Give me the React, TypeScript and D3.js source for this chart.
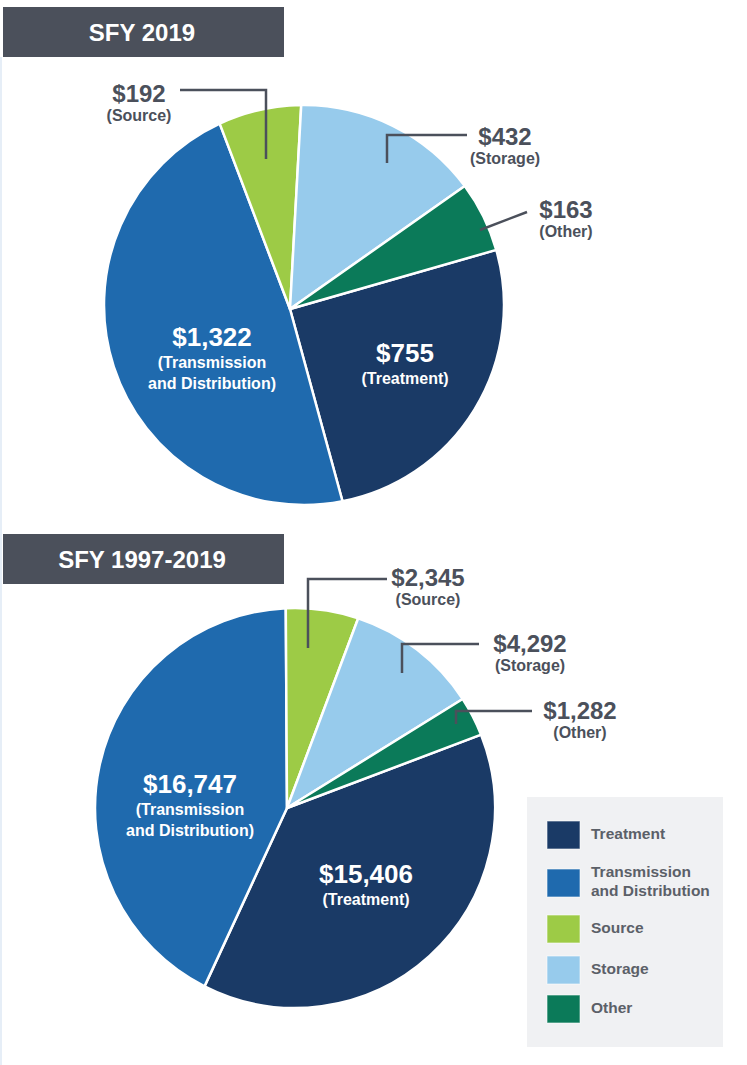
import * as d3 from "d3"

// categories shared by both pies, in drawing order (clockwise)
const categories = ["Treatment", "Transmission and Distribution", "Source", "Storage", "Other"]
const colors = ["#1a3a66", "#1f6aae", "#9dcb46", "#97cbec", "#0b7a59"]

const values2019 = [755, 1322, 192, 432, 163]
const valuesAll = [15406, 16747, 2345, 4292, 1282]
const titles = ["SFY 2019", "SFY 1997-2019"]

const FONT = "'Liberation Sans', Arial, Helvetica, sans-serif"
const GRAY = "#4b505b"

const fmt = d3.format("$,")

// layout for each pie (positions only, not data)
const LAYOUT = [
  {
    headerY: 7,
    cx: 304, cy: 305, r: 200, apex: [290, 309], start: 74,
    labels: [
      { i: 0, x: 405, y: 362, inside: true, sub: ["(Treatment)"] },
      { i: 1, x: 212, y: 346, inside: true, sub: ["(Transmission", "and Distribution)"] },
      { i: 2, x: 139, y: 102, inside: false, sub: ["(Source)"] },
      { i: 3, x: 505, y: 145, inside: false, sub: ["(Storage)"] },
      { i: 4, x: 566, y: 218, inside: false, sub: ["(Other)"] },
    ],
    leaders: [
      [[180, 90], [266, 90], [266, 159]],
      [[467, 135], [387, 135], [387, 163]],
      [[527, 212], [480, 230]],
    ],
  },
  {
    headerY: 534,
    cx: 295, cy: 808, r: 200, apex: [287, 808], start: 68.5,
    labels: [
      { i: 0, x: 366, y: 883, inside: true, sub: ["(Treatment)"] },
      { i: 1, x: 190, y: 793, inside: true, sub: ["(Transmission", "and Distribution)"] },
      { i: 2, x: 428, y: 586, inside: false, sub: ["(Source)"] },
      { i: 3, x: 530, y: 652, inside: false, sub: ["(Storage)"] },
      { i: 4, x: 580, y: 719, inside: false, sub: ["(Other)"] },
    ],
    leaders: [
      [[387, 579], [308, 579], [308, 648]],
      [[479, 644], [402, 644], [402, 673]],
      [[532, 711], [456, 711], [456, 724]],
    ],
  },
]

const slicePath = (cx: number, cy: number, r: number, apex: number[], a0: number, a1: number) => {
  const p = d3.path()
  p.moveTo(apex[0], apex[1])
  p.lineTo(cx + r * Math.sin(a0), cy - r * Math.cos(a0))
  p.arc(cx, cy, r, a0 - Math.PI / 2, a1 - Math.PI / 2)
  p.closePath()
  return p.toString()
}

const PieBlock = ({ values, title, lay }: { values: number[]; title: string; lay: (typeof LAYOUT)[0] }) => {
  const a0 = (lay.start * Math.PI) / 180
  const arcs = d3
    .pie<number>()
    .sort(null)
    .value((d) => d)
    .startAngle(a0)
    .endAngle(a0 + 2 * Math.PI)(values)

  return (
    <g>
      <rect x={3} y={lay.headerY} width={281} height={50} fill="#4b505b" />
      <text
        x={142}
        y={lay.headerY + 34}
        textAnchor="middle"
        fill="#fff"
        fontFamily={FONT}
        fontWeight="bold"
        fontSize={24}
      >
        {title}
      </text>

      {arcs.map((a, i) => (
        <path
          key={i}
          d={slicePath(lay.cx, lay.cy, lay.r, lay.apex, a.startAngle, a.endAngle)}
          fill={colors[i]}
          stroke="#fff"
          strokeWidth={2.5}
          strokeLinejoin="round"
        />
      ))}

      {lay.leaders.map((pts, i) => (
        <polyline
          key={i}
          points={pts.map((p) => p.join(",")).join(" ")}
          fill="none"
          stroke={GRAY}
          strokeWidth={2.5}
        />
      ))}

      {lay.labels.map((l) => {
        const c = l.inside ? "#fff" : GRAY
        return (
          <g key={l.i} fontFamily={FONT} fontWeight="bold" fill={c} textAnchor="middle">
            <text x={l.x} y={l.y} fontSize={l.inside ? 26 : 24}>
              {fmt(values[l.i])}
            </text>
            {l.sub.map((s, k) => (
              <text key={k} x={l.x} y={l.y + (l.inside ? 22 : 19) + k * 21} fontSize={16}>
                {s}
              </text>
            ))}
          </g>
        )
      })}
    </g>
  )
}

const legendLines = [["Treatment"], ["Transmission", "and Distribution"], ["Source"], ["Storage"], ["Other"]]
const legendY = [821, 869, 915, 956, 995]

export default function App() {
  return (
    <svg
      width={747}
      height={1065}
      style={{ position: "absolute", left: 0, top: 0, display: "block", background: "#fff" }}
    >
      <rect x={0} y={57} width={2} height={1008} fill="#e6eef7" />
      <PieBlock values={values2019} title={titles[0]} lay={LAYOUT[0]} />
      <PieBlock values={valuesAll} title={titles[1]} lay={LAYOUT[1]} />

      <g>
        <rect x={527} y={797} width={196} height={250} fill="#f0f1f3" />
        {categories.map((c, i) => (
          <g key={c}>
            <rect
              x={547}
              y={legendY[i]}
              width={33}
              height={28}
              fill={colors[i]}
              stroke="#ffffff"
              strokeOpacity={0.6}
              strokeWidth={1}
            />
            {legendLines[i].map((t, k) => (
              <text
                key={k}
                x={591}
                y={legendY[i] + (legendLines[i].length > 1 ? 8 : 18) + k * 19}
                fontFamily={FONT}
                fontWeight="bold"
                fontSize={15.5}
                fill="#5b6068"
              >
                {t}
              </text>
            ))}
          </g>
        ))}
      </g>
    </svg>
  )
}
